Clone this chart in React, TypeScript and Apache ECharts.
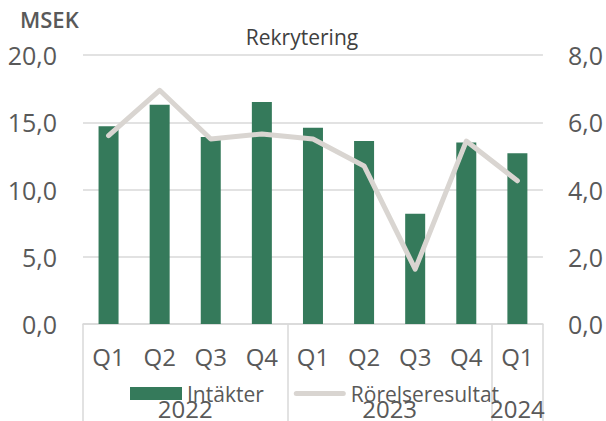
import React, { useEffect, useRef } from "react";
import * as echarts from "echarts";

const quarters = ["Q1", "Q2", "Q3", "Q4", "Q1", "Q2", "Q3", "Q4", "Q1"];
const years = ["2022", "2023", "2024"];
const yearCenters = [2, 6, 8.5];
const yearBounds = [0, 4, 8, 9];
const intakter = [14.7, 16.3, 13.9, 16.5, 14.6, 13.6, 8.2, 13.5, 12.7];
const rorelseresultat = [5.6, 6.95, 5.5, 5.65, 5.5, 4.7, 1.63, 5.44, 4.26];

const FONT = "Open Sans";
const TXT = "#595959";
const GRID = "#D9D9D9";
const LINE = "#D9D5D1";

export default function App() {
  const ref = useRef<HTMLDivElement>(null);
  useEffect(() => {
    const chart = echarts.init(ref.current!, null, { renderer: "svg" });
    const fmt = (v: number) => v.toFixed(1).replace(".", ",");
    chart.setOption({
      animation: false,
      textStyle: { fontFamily: FONT },
      grid: { left: 83, right: 61, top: 55, bottom: 97 },
      graphic: [
        { type: "text", left: 20, top: 8, style: { text: "MSEK", font: `600 22px "${FONT}"`, fill: TXT } },
        {
          type: "text",
          x: 302,
          y: 37,
          style: { text: "Rekrytering", font: `21px "${FONT}"`, fill: "#404040", align: "center", verticalAlign: "middle" },
        },
      ],
      legend: {
        left: 125,
        top: 378,
        itemWidth: 52,
        itemHeight: 13,
        itemGap: 30,
        textStyle: { fontSize: 21, color: TXT, fontFamily: FONT },
        data: [
          { name: "Intäkter", icon: "rect" },
          { name: "Rörelseresultat", icon: "path://M2.5,0 H49.5 A2.5,2.5 0 0 1 49.5,5 H2.5 A2.5,2.5 0 0 1 2.5,0 Z" },
        ],
      },
      xAxis: [
        {
          type: "category",
          data: quarters,
          position: "bottom",
          axisLine: { show: false },
          axisTick: { show: false },
          axisLabel: { fontSize: 24, color: TXT, margin: 20, fontFamily: FONT },
        },
        {
          type: "value",
          min: 0,
          max: 9,
          position: "bottom",
          axisLine: { show: true, lineStyle: { color: GRID, width: 1.5 } },
          axisTick: { show: true, customValues: yearBounds, length: 100, lineStyle: { color: GRID, width: 1.5 } },
          axisLabel: {
            show: true,
            customValues: yearCenters,
            formatter: (v: number) => years[yearCenters.indexOf(v)] ?? "",
            fontSize: 24,
            color: TXT,
            margin: 72,
            fontFamily: FONT,
          },
          splitLine: { show: false },
        },
      ],
      yAxis: [
        {
          type: "value",
          min: 0,
          max: 20,
          interval: 5,
          axisLabel: { formatter: fmt, fontSize: 25, color: TXT, margin: 26, fontFamily: FONT },
          axisLine: { show: false },
          axisTick: { show: false },
          splitLine: { lineStyle: { color: GRID, width: 1.5 } },
        },
        {
          type: "value",
          min: 0,
          max: 8,
          interval: 2,
          position: "right",
          axisLabel: { formatter: fmt, fontSize: 25, color: TXT, margin: 25, fontFamily: FONT },
          axisLine: { show: false },
          axisTick: { show: false },
          splitLine: { show: false },
        },
      ],
      series: [
        {
          name: "Intäkter",
          type: "bar",
          data: intakter,
          barWidth: 20,
          itemStyle: { color: "#357A5B" },
          xAxisIndex: 0,
          yAxisIndex: 0,
        },
        {
          name: "Rörelseresultat",
          type: "line",
          data: rorelseresultat,
          xAxisIndex: 0,
          yAxisIndex: 1,
          symbol: "none",
          lineStyle: { color: LINE, width: 5, cap: "round", join: "round" },
          itemStyle: { color: LINE },
        },
      ],
    });
    return () => chart.dispose();
  }, []);
  return <div ref={ref} style={{ width: 606, height: 421, position: "absolute", left: 0, top: 0 }} />;
}
